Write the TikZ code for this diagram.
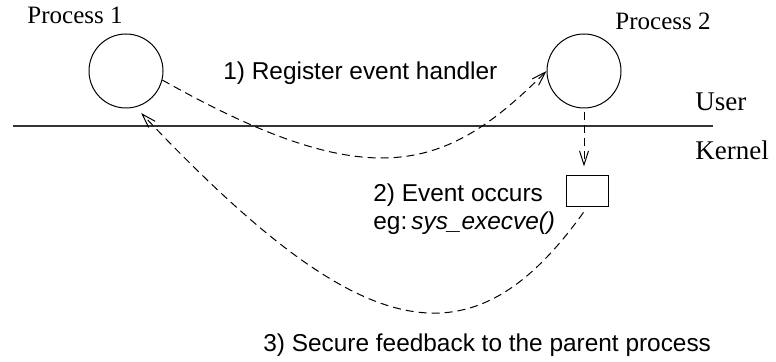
\documentclass[tikz,border=0pt]{standalone}
\usepackage{fontspec}
\setmainfont{Liberation Serif}
\setsansfont{Liberation Sans}
\usetikzlibrary{arrows.meta}

\begin{document}
\begin{tikzpicture}[
        x=0.5pt, y=-0.5pt,
        proc/.style={circle, draw, line width=0.5pt, minimum size=37pt, inner sep=0pt},
        evbox/.style={rectangle, draw, line width=0.5pt, minimum width=21pt, minimum height=15.5pt, inner sep=0pt},
        lbl/.style={font=\fontsize{12.5}{14}\selectfont, inner sep=0pt},
        side/.style={font=\fontsize{13.5}{15}\selectfont, inner sep=0pt, anchor=base west},
        note/.style={font=\sffamily\fontsize{12.2}{14}\selectfont, inner sep=0pt, anchor=base west},
        flow/.style={dash pattern=on 4pt off 2.5pt, line width=0.5pt, -{Straight Barb[length=7pt,width=4.5pt]}}
    ]
    \useasboundingbox (0,0) rectangle (776,362);
    \node[proc] (p1) at (126,71) {};
    \node[proc] (p2) at (584,71) {};
    \node[evbox] (ev) at (587,191.5) {};
    \node[lbl, anchor=base] (p1lbl) at (75,24) {Process 1};
    \node[lbl, anchor=base] (p2lbl) at (663,30) {Process 2};
    \node[side] (user) at (695,111) {User};
    \node[side] (kernel) at (695,160) {Kernel};
    \node[note] (reg) at (223,80) {1) Register event handler};
    \node[note] (occ) at (373,202) {2) Event occurs};
    \node[note] (eg) at (373,230) {eg:\,\textit{sys\_execve()}};
    \node[note] (fb) at (263,352) {3) Secure feedback to the parent process};
    % user/kernel boundary
    \coordinate (bl) at (13,126);
    \coordinate (br) at (713,126);
    \draw[line width=0.6pt, black!80] (bl) -- (br);
    % flows
    \draw[flow] (p1.-14) .. controls +(210,118) and +(-100,100) .. (p2.west);
    \draw[flow, shorten <=2pt, shorten >=4.5pt] (p2.south) -- (p2.south |- ev.north);
    \draw[flow, shorten <=3pt, shorten >=4pt] (ev.south) .. controls +(-116,162) and +(226,240) .. (p1.-75);
\end{tikzpicture}
\end{document}
